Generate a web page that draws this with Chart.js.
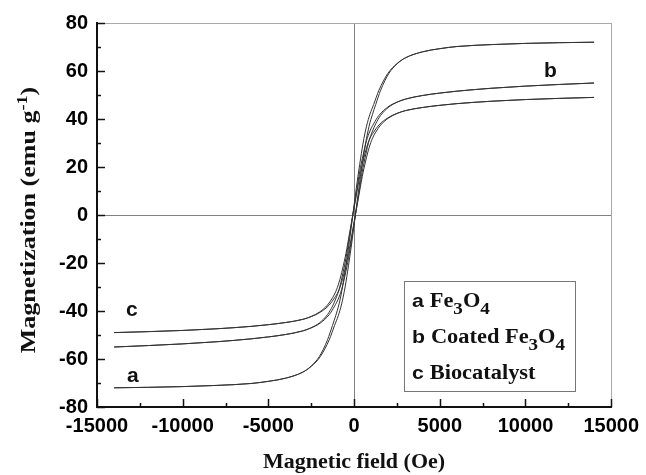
<!DOCTYPE html>
<html>
<head>
<meta charset="utf-8">
<script src="https://cdn.jsdelivr.net/npm/chart.js@4.4.1/dist/chart.umd.min.js"></script>
<style>
  html, body { margin: 0; padding: 0; background: #fff; }
  canvas { display: block; }
</style>
</head>
<body>
<canvas id="hysteresis" width="646" height="475"></canvas>
<script>
// field values for the descending branch (from +H down), listed left to right
var fieldDown = [-14000, -12000, -10000, -8000, -6000, -5000, -4000, -3000, -2515, -2030, -1550, -1260, -1075, -875, -675, -475, -275, -75,
    125, 325, 525, 725, 925, 1140, 1450, 1970, 2485, 3000, 4000, 5000, 6000, 8000, 10000, 12000, 14000];
// field values for the ascending branch (from -H up)
var fieldUp = [-14000, -12000, -10000, -8000, -6000, -5000, -4000, -3000, -2485, -1970, -1450, -1140, -925, -725, -525, -325, -125, 75,
    275, 475, 675, 875, 1075, 1260, 1550, 2030, 2515, 3000, 4000, 5000, 6000, 8000, 10000, 12000, 14000];

// magnetization (emu/g), same point order as the field arrays
var magA = [-72, -71.8, -71.5, -71, -70.2, -69.3, -68, -65.5, -63, -59, -52, -46, -42, -37, -30, -21, -11, 0,
    11, 21, 30, 37, 42, 46, 52, 59, 63, 65.5, 68, 69.3, 70.2, 71, 71.5, 71.8, 72];       // a Fe3O4
var magB = [-55, -54.4, -53.7, -52.8, -51.6, -50.8, -49.8, -48.3, -47, -45, -41.5, -38, -35, -31, -25, -18, -9, 0,
    9, 18, 25, 31, 35, 38, 41.5, 45, 47, 48.3, 49.8, 50.8, 51.6, 52.8, 53.7, 54.4, 55];   // b Coated Fe3O4
var magC = [-49, -48.6, -48.1, -47.4, -46.4, -45.7, -44.8, -43.5, -42.3, -40.5, -37.5, -34.5, -32, -28, -22.5, -16, -8, 0,
    8, 16, 22.5, 28, 32, 34.5, 37.5, 40.5, 42.3, 43.5, 44.8, 45.7, 46.4, 47.4, 48.1, 48.6, 49]; // c Biocatalyst

var xTicks = [-15000, -10000, -5000, 0, 5000, 10000, 15000];
var yTicks = [-80, -60, -40, -20, 0, 20, 40, 60, 80];

// letters written next to the curves (data coordinates)
var curveLabels = [
    { text: 'b', x: 11450, y: 57.4 },
    { text: 'c', x: -12970, y: -42.1 },
    { text: 'a', x: -12910, y: -69.5 }
];

function points(field, mag) {
    return field.map(function (h, i) { return { x: h, y: mag[i] }; });
}

function lineSet(field, mag) {
    return {
        data: points(field, mag),
        showLine: true,
        borderColor: '#333333',
        borderWidth: 1,
        pointRadius: 0,
        cubicInterpolationMode: 'monotone',
        fill: false
    };
}

var SANS = '"Liberation Sans", Arial, sans-serif';
var SERIF = '"Liberation Serif", "Times New Roman", serif';

// inward tick marks, axis titles, legend box and curve letters
var decorations = {
    id: 'decorations',
    afterDraw: function (chart) {
        var ctx = chart.ctx;
        var area = chart.chartArea;
        var xs = chart.scales.x;
        var ys = chart.scales.y;
        ctx.save();

        // ticks pointing into the plot
        ctx.strokeStyle = '#111';
        ctx.lineWidth = 1.5;
        ctx.beginPath();
        for (var v = -15000; v <= 15000; v += 2500) {
            var px = Math.round(xs.getPixelForValue(v)) + 0.5;
            var len = (v % 5000 === 0) ? 8 : 4;
            ctx.moveTo(px, area.bottom);
            ctx.lineTo(px, area.bottom - len);
        }
        for (var w = -80; w <= 80; w += 10) {
            var py = Math.round(ys.getPixelForValue(w)) + 0.5;
            var l2 = (w % 20 === 0) ? 8 : 4;
            ctx.moveTo(area.left, py);
            ctx.lineTo(area.left + l2, py);
        }
        ctx.stroke();

        ctx.fillStyle = '#111';

        // x title
        drawPieces(ctx, [{ t: 'Magnetic field (Oe)', f: 'bold 20px ' + SERIF }],
            (area.left + area.right) / 2, 468, { center: true, stretch: 1.1 });

        // y title with superscript
        drawPieces(ctx, [
            { t: 'Magnetization (emu g', f: 'bold 20px ' + SERIF },
            { t: '-1', f: 'bold 14px ' + SERIF, dy: -8 },
            { t: ')', f: 'bold 20px ' + SERIF }
        ], 35, 220, { center: true, rotate: true, stretch: 1.3 });

        // legend
        ctx.strokeStyle = '#777';
        ctx.lineWidth = 1;
        ctx.strokeRect(404.5, 281.5, 171, 110);
        var rows = [
            [{ t: 'a ', f: 'bold 19px ' + SANS }, { t: 'Fe', f: 'bold 20px ' + SERIF }, { t: '3', f: 'bold 17px ' + SERIF, dy: 7 },
             { t: 'O', f: 'bold 20px ' + SERIF }, { t: '4', f: 'bold 17px ' + SERIF, dy: 7 }],
            [{ t: 'b ', f: 'bold 19px ' + SANS }, { t: 'Coated Fe', f: 'bold 20px ' + SERIF }, { t: '3', f: 'bold 17px ' + SERIF, dy: 7 },
             { t: 'O', f: 'bold 20px ' + SERIF }, { t: '4', f: 'bold 17px ' + SERIF, dy: 7 }],
            [{ t: 'c ', f: 'bold 19px ' + SANS }, { t: 'Biocatalyst', f: 'bold 20px ' + SERIF }]
        ];
        var baselines = [307, 343, 379];
        for (var r = 0; r < rows.length; r++) {
            drawPieces(ctx, rows[r], 412, baselines[r], { stretch: 1.12 });
        }

        // curve letters
        ctx.textAlign = 'center';
        ctx.textBaseline = 'alphabetic';
        ctx.font = 'bold 21px ' + SANS;
        curveLabels.forEach(function (c) {
            ctx.fillText(c.text, xs.getPixelForValue(c.x), ys.getPixelForValue(c.y));
        });

        ctx.restore();
    }
};

// draws a run of text pieces on one baseline; the source figure's text is a bit wider than the fonts here
function drawPieces(ctx, parts, x, y, opt) {
    ctx.save();
    ctx.textAlign = 'left';
    ctx.textBaseline = 'alphabetic';
    var total = 0;
    parts.forEach(function (p) { ctx.font = p.f; total += ctx.measureText(p.t).width; });
    ctx.translate(x, y);
    if (opt.rotate) ctx.rotate(-Math.PI / 2);
    ctx.scale(opt.stretch || 1, 1);
    var cx = opt.center ? -total / 2 : 0;
    parts.forEach(function (p) {
        ctx.font = p.f;
        ctx.fillText(p.t, cx, p.dy || 0);
        cx += ctx.measureText(p.t).width;
    });
    ctx.restore();
}

document.addEventListener('DOMContentLoaded', function () {
    var ctx = document.getElementById('hysteresis').getContext('2d');
    var chart = new Chart(ctx, {
        type: 'scatter',
        data: {
            datasets: [
                lineSet(fieldDown, magA), lineSet(fieldUp, magA),
                lineSet(fieldDown, magB), lineSet(fieldUp, magB),
                lineSet(fieldDown, magC), lineSet(fieldUp, magC)
            ]
        },
        options: {
            responsive: false,
            animation: false,
            devicePixelRatio: 1,
            layout: { padding: { top: 23, right: 31, left: 0, bottom: 0 } },
            plugins: {
                legend: { display: false },
                tooltip: { enabled: false }
            },
            scales: {
                x: {
                    type: 'linear',
                    min: xTicks[0],
                    max: xTicks[xTicks.length - 1],
                    afterBuildTicks: function (scale) {
                        scale.ticks = xTicks.map(function (v) { return { value: v }; });
                    },
                    afterFit: function (scale) { scale.height = 68; },
                    ticks: {
                        callback: function (v) { return String(v); },
                        color: '#000',
                        padding: 7,
                        maxRotation: 0,
                        font: { family: SANS, size: 20, weight: 'bold' }
                    },
                    grid: {
                        drawTicks: false,
                        lineWidth: 1,
                        color: function (c) {
                            if (!c.tick) return 'rgba(0,0,0,0)';
                            if (c.tick.value === 0) return '#808080';
                            if (c.tick.value === 15000) return '#a8a8a8';
                            return 'rgba(0,0,0,0)';
                        }
                    },
                    border: { display: true, color: '#111', width: 2 }
                },
                y: {
                    type: 'linear',
                    min: yTicks[0],
                    max: yTicks[yTicks.length - 1],
                    afterBuildTicks: function (scale) {
                        scale.ticks = yTicks.map(function (v) { return { value: v }; });
                    },
                    afterFit: function (scale) { scale.width = 97; },
                    ticks: {
                        callback: function (v) { return String(v); },
                        color: '#000',
                        padding: 9,
                        font: { family: SANS, size: 20, weight: 'bold' }
                    },
                    grid: {
                        drawTicks: false,
                        lineWidth: 1,
                        color: function (c) {
                            if (!c.tick) return 'rgba(0,0,0,0)';
                            if (c.tick.value === 0) return '#808080';
                            if (c.tick.value === 80) return '#a8a8a8';
                            return 'rgba(0,0,0,0)';
                        }
                    },
                    border: { display: true, color: '#111', width: 2 }
                }
            }
        },
        plugins: [decorations]
    });
});
</script>
</body>
</html>
